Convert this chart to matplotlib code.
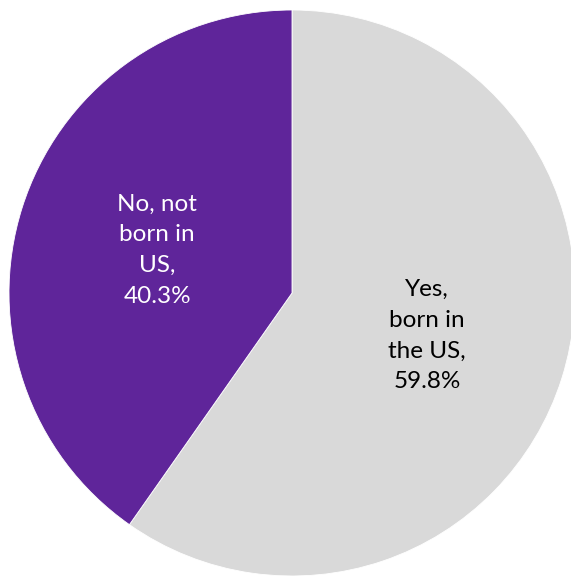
import matplotlib.pyplot as plt

labels = ["Yes,\nborn in\nthe US,\n59.8%", "No, not\nborn in\nUS,\n40.3%"]
shares = [59.8, 40.3]
colors = ["#D9D9D9", "#5F259A"]
text_colors = ["black", "white"]

W, H = 571, 576
fig = plt.figure(figsize=(W / 100, H / 100), dpi=100)
cx, cy, r = 292, 293, 283
ax = fig.add_axes([(cx - r) / W, (H - cy - r) / H, 2 * r / W, 2 * r / H])

wedges, texts = ax.pie(shares, labels=labels, colors=colors, startangle=90,
                       counterclock=False, labeldistance=0.5, radius=1,
                       wedgeprops=dict(edgecolor="white", linewidth=0.6),
                       textprops=dict(fontsize=17.5, family="Lato", linespacing=1.58))
for t, c in zip(texts, text_colors):
    t.set_ha("center")
    t.set_va("center")
    t.set_color(c)
for w in wedges:
    w.set_clip_on(False)

ax.set_xlim(-1, 1)
ax.set_ylim(-1, 1)
ax.set_aspect("auto")
ax.axis("off")

fig.savefig("out.png", dpi=100)
